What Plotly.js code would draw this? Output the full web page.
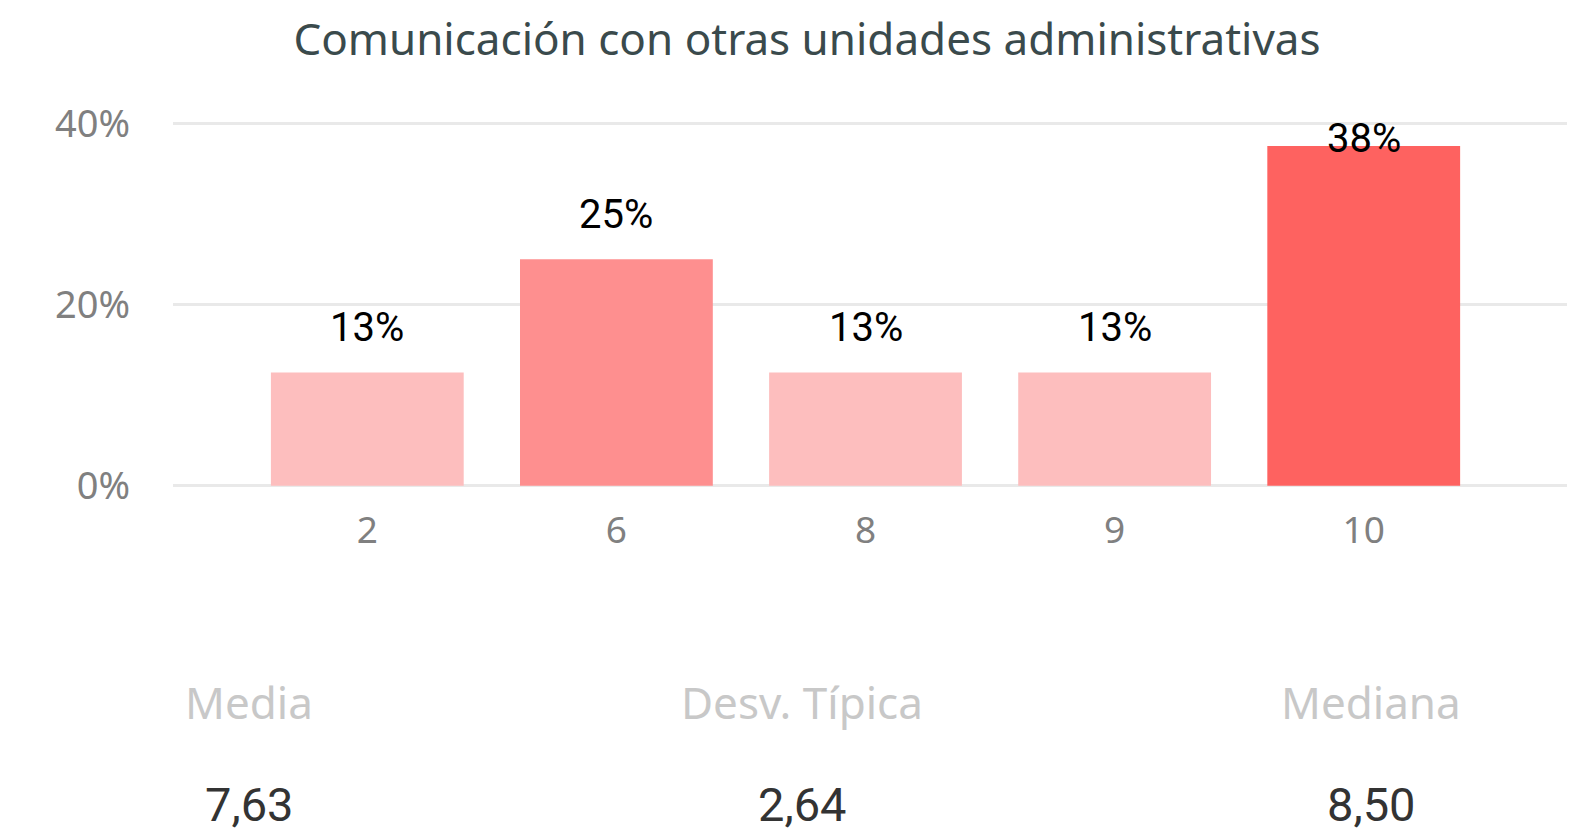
<!DOCTYPE html>
<html>
<head>
<meta charset="utf-8">
<script src="https://cdn.plot.ly/plotly-3.0.1.min.js"></script>
<style>html,body{margin:0;padding:0;background:#fff;}#chart{width:1594px;height:835px;}</style>
</head>
<body>
<div id="chart"></div>
<script>
// Data
const categories = ['2', '6', '8', '9', '10'];
const percentValues = [12.5, 25, 12.5, 12.5, 37.5];
const percentLabels = ['13%', '25%', '13%', '13%', '38%'];
const barColors = ['#FDBEBE', '#FE8F8F', '#FDBEBE', '#FDBEBE', '#FE6260'];
const yTickVals = [0, 20, 40];
const yTickText = ['0%', '20%', '40%'];
const statNames = ['Media', 'Desv. Típica', 'Mediana'];
const statValues = ['7,63', '2,64', '8,50'];
const titleText = 'Comunicación con otras unidades administrativas';

// Layout geometry
const W = 1594, H = 835;
const y0px = 486, y40px = 123;
const yMin = -0.25, yMax = 40.25;
const pxPerUnit = (y0px - y40px) / 40;
const plotL = 173, plotR = 1567;
const plotT = y40px - (yMax - 40) * pxPerUnit;
const plotB = y0px + (0 - yMin) * pxPerUnit;
const px2paperX = p => (p - plotL) / (plotR - plotL);
const px2paperY = p => (plotB - p) / (plotB - plotT);

const labelFont = 'Roboto, "DejaVu Sans Condensed", sans-serif';
const uiFont = '"Noto Sans", "Open Sans", sans-serif';

const annotations = [];
const labelGap = 19, labelH = 44;
categories.forEach((c, i) => {
  const v = percentValues[i];
  const room = (40 - v) * pxPerUnit - labelH + 3;
  annotations.push({
    x: i, y: v, xref: 'x', yref: 'y',
    text: percentLabels[i], showarrow: false,
    xanchor: 'center', yanchor: 'bottom', yshift: Math.min(labelGap, room),
    font: {family: labelFont, size: 40, color: '#000000'}
  });
});
const statX = [249, 802, 1371];
statNames.forEach((n, i) => {
  annotations.push({
    x: px2paperX(statX[i]), y: px2paperY(703), xref: 'paper', yref: 'paper',
    text: n, showarrow: false, xanchor: 'center', yanchor: 'middle',
    font: {family: uiFont, size: 44, color: '#C8C8C8'}
  });
  annotations.push({
    x: px2paperX(statX[i]), y: px2paperY(835), xref: 'paper', yref: 'paper',
    text: statValues[i], showarrow: false, xanchor: 'center', yanchor: 'bottom',
    font: {family: labelFont, size: 47, color: '#333333'}
  });
});

const trace = {
  type: 'bar',
  x: categories,
  y: percentValues,
  marker: {color: barColors, line: {width: 0}},
  hoverinfo: 'none'
};

const layout = {
  width: W, height: H,
  margin: {l: plotL, r: W - plotR, t: plotT, b: H - plotB, pad: 0},
  paper_bgcolor: '#ffffff', plot_bgcolor: '#ffffff',
  showlegend: false,
  bargap: 0.226,
  title: {
    text: titleText,
    font: {family: uiFont, size: 44, color: '#3A4A4C'},
    xref: 'paper', x: px2paperX(807), xanchor: 'center',
    yref: 'container', y: 1 - 40 / H, yanchor: 'middle'
  },
  xaxis: {
    type: 'category',
    range: [-0.78, 4.816],
    showgrid: false, zeroline: false, showline: false,
    ticks: '', ticklabelstandoff: 17,
    tickfont: {family: uiFont, size: 37, color: '#808080'}
  },
  yaxis: {
    range: [yMin, yMax],
    tickvals: yTickVals, ticktext: yTickText,
    showgrid: true, gridcolor: '#E9E9E9', gridwidth: 3,
    zeroline: false, showline: false,
    ticks: '', ticklabelstandoff: 42,
    tickfont: {family: uiFont, size: 38, color: '#808080'}
  },
  annotations: annotations
};

Plotly.newPlot('chart', [trace], layout, {displayModeBar: false, staticPlot: true});
</script>
</body>
</html>
